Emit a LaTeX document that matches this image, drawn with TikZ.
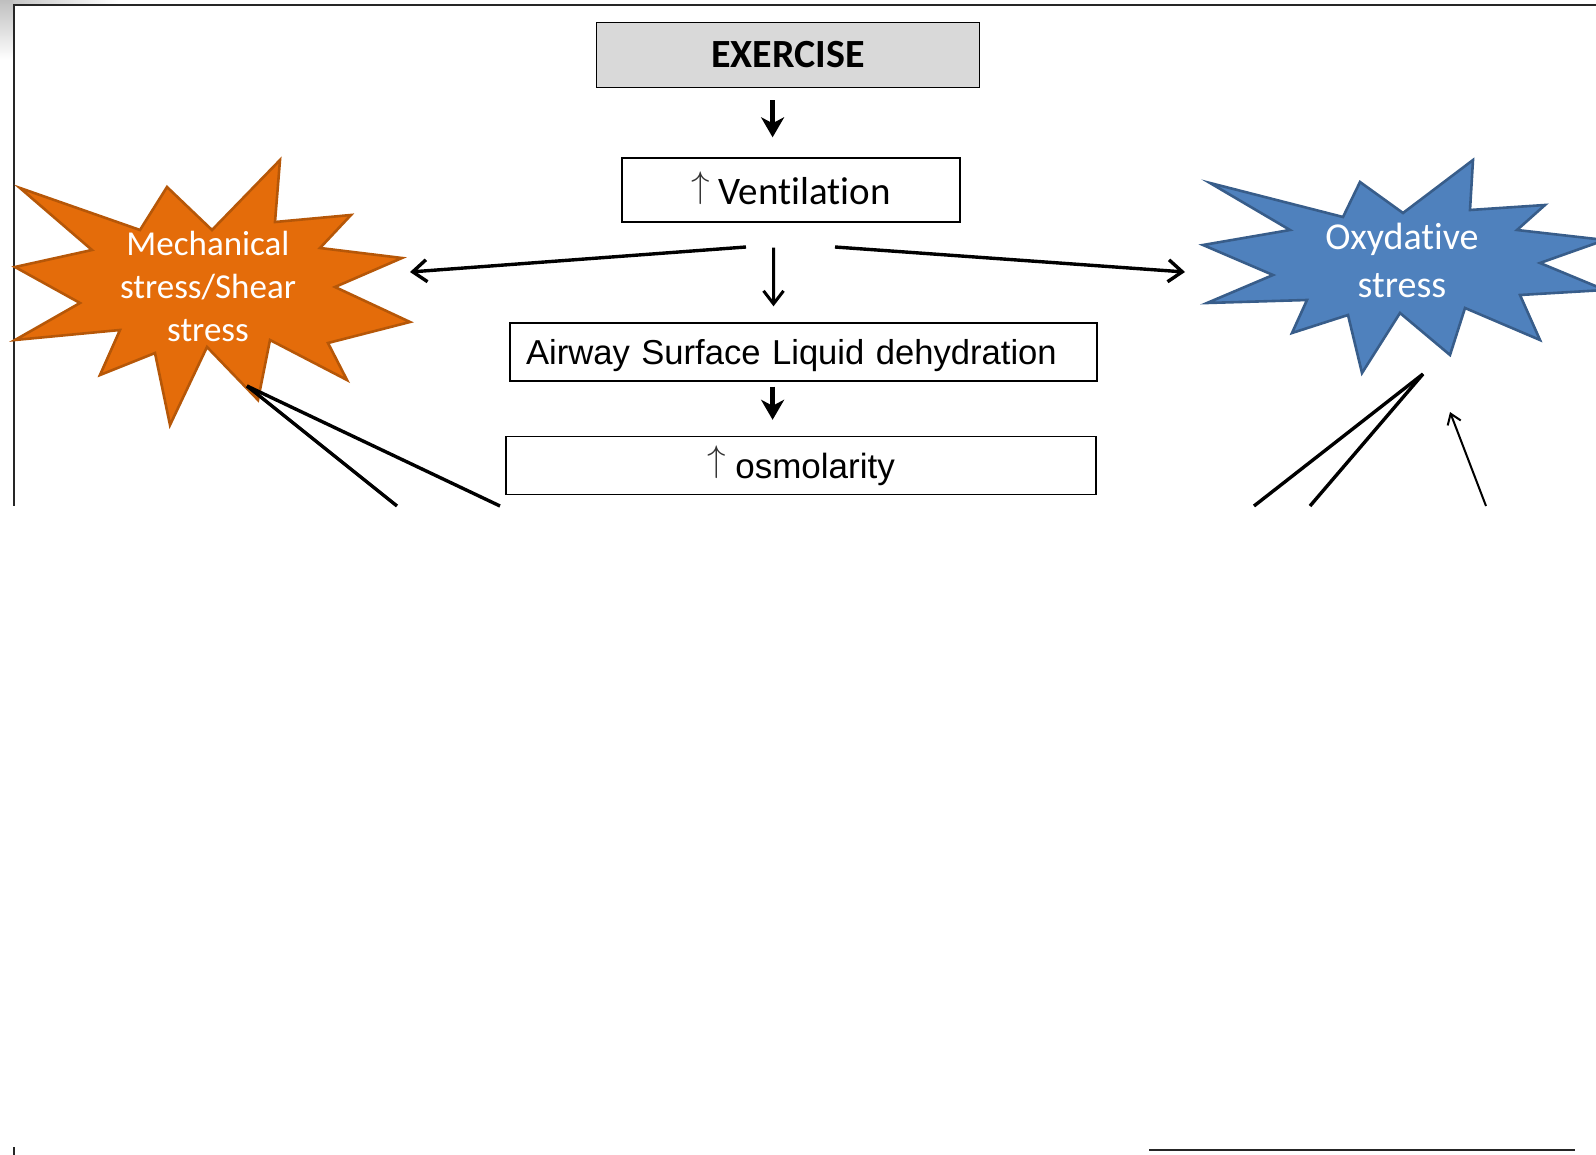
\RequirePackage{fix-cm}
\documentclass[tikz,border=0pt]{standalone}
\usepackage{fontspec}
\setmainfont{Liberation Sans}
\newfontfamily\carlito[Ligatures=NoCommon]{Carlito}
\usepackage{tikz}
\usetikzlibrary{positioning}
\usetikzlibrary{arrows.meta}

\definecolor{mechorange}{HTML}{E46C0A}
\definecolor{mechedge}{HTML}{B65708}
\definecolor{oxyblue}{HTML}{4F81BD}
\definecolor{oxyedge}{HTML}{385D8A}
\definecolor{exgray}{HTML}{D9D9D9}

\newcommand{\incr}{{\color{black!80}\fontsize{18.5}{20}\selectfont\raisebox{0.194em}{$\uparrow$}}}

\tikzset{
  box/.style={draw=black, line width=0.7pt, inner sep=0pt},
  frame/.style={draw=black!85, line width=0.8pt},
  mechstar/.style={fill=mechorange, draw=mechedge, line width=1.3pt, line join=miter},
  oxystar/.style={fill=oxyblue, draw=oxyedge, line width=1.3pt, line join=miter},
  startext/.style={text=white, align=center, inner sep=0pt},
  shortarrow/.style={line width=2.6pt, -{Stealth[length=10pt, width=11.5pt, inset=3pt]}},
  midarrow/.style={line width=1.5pt, -{Straight Barb[length=6.5pt, width=10pt, line width=1.5pt]}},
  longarrow/.style={line width=1.7pt, -{Straight Barb[length=7pt, width=11pt, line width=1.7pt]}},
  thinarrow/.style={line width=1pt, -{Straight Barb[length=5pt, width=7pt, line width=1pt]}},
  feedline/.style={line width=1.7pt}
}

\begin{document}
\begin{tikzpicture}[x=0.5pt, y=-0.5pt]
    \useasboundingbox (0,0) rectangle (1596,1155);

    % page corner and frame
    \shade[left color=gray!50, right color=white] (0,0) rectangle (120,5);
    \shade[top color=gray!50, bottom color=white] (0,0) rectangle (13,60);
    \draw[frame] (1596,5) -- (14,5) -- (14,506);
    \draw[frame] (14,1147) -- (14,1155);
    \draw[frame] (1149,1150) -- (1575,1150);

    % stars
    \draw[mechstar] (280,160) -- (275,222) -- (351,215) -- (320,248) -- (402,258) -- (335,287)
      -- (410,322) -- (328,343) -- (347,380) -- (270,340) -- (258,400) -- (207,347) -- (170,425)
      -- (155,353) -- (100,375) -- (120,330) -- (15,340) -- (80,303) -- (15,267) -- (92,250)
      -- (20,188) -- (140,230) -- (167,187) -- (212,230) -- cycle;
    \draw[oxystar] (1210,183) -- (1343,217) -- (1360,182) -- (1403,213) -- (1473,160) -- (1470,210)
      -- (1545,205) -- (1517,230) -- (1605,240) -- (1540,263) -- (1605,290) -- (1520,295)
      -- (1540,340) -- (1465,308) -- (1450,355) -- (1400,313) -- (1362,373) -- (1348,315)
      -- (1292,333) -- (1307,300) -- (1207,303) -- (1273,275) -- (1203,245) -- (1290,230) -- cycle;

    \node[startext, font=\carlito\fontsize{17.5}{21.5}\selectfont] (mech) at (208,286)
      {Mechanical\\stress/Shear\\stress};
    \node[startext, font=\carlito\fontsize{19}{24}\selectfont] (oxy) at (1402,260)
      {Oxydative\\stress};

    % boxes
    \node[box, fill=exgray, minimum width=191.5pt, minimum height=32.5pt,
      font=\carlito\bfseries\fontsize{20}{24}\selectfont] (exercise) at (788,55) {EXERCISE};
    \node[box, minimum width=169pt, minimum height=32pt, text height=14.4pt, text depth=0pt,
      font=\carlito\fontsize{19.5}{23}\selectfont] (ventilation) at (791,190) {\incr\ Ventilation};
    \node[box, minimum width=293.5pt, minimum height=29pt, text width=277.5pt, align=left,
      text height=13pt, text depth=0.4pt,
      font=\fontsize{17.3}{21}\selectfont] (asl) at (803.5,352) {Airway Surface Liquid dehydration};
    \node[box, minimum width=295pt, minimum height=29pt, text height=13pt, text depth=0pt,
      font=\fontsize{17.5}{21}\selectfont] (osm) at (801,465.5) {\incr\ osmolarity};

    % connectors
    \coordinate (ventL) at (746,247);
    \coordinate (ventR) at (835,247);
    \coordinate (mechin) at (410,272);
    \coordinate (oxyin) at (1185,272);
    \coordinate (mechtip) at (247,386);
    \coordinate (cutA) at (397,506);
    \coordinate (cutB) at (500,506);
    \coordinate (oxytip) at (1423,374);
    \coordinate (cutC) at (1254,506);
    \coordinate (cutD) at (1310,506);
    \coordinate (cutE) at (1486,506);
    \coordinate (oxyin2) at (1450,412);

    \draw[shortarrow, shorten <=6pt, shorten >=10pt] ([xshift=-7.7pt]exercise.south) -- ([xshift=-9.2pt]ventilation.north);
    \draw[midarrow, shorten <=12.5pt, shorten >=8pt] ([xshift=-8.7pt]ventilation.south) -- ([xshift=-15pt]asl.north);
    \draw[shortarrow, shorten <=2.5pt, shorten >=8pt] ([xshift=-15.45pt]asl.south) -- ([xshift=-14.2pt]osm.north);
    \draw[longarrow] (ventL) -- (mechin);
    \draw[longarrow] (ventR) -- (oxyin);

    \draw[feedline] (cutA) -- (mechtip);
    \draw[feedline] (cutB) -- (mechtip);
    \draw[feedline] (cutC) -- (oxytip);
    \draw[feedline] (cutD) -- (oxytip);
    \draw[thinarrow] (cutE) -- (oxyin2);
\end{tikzpicture}
\end{document}
